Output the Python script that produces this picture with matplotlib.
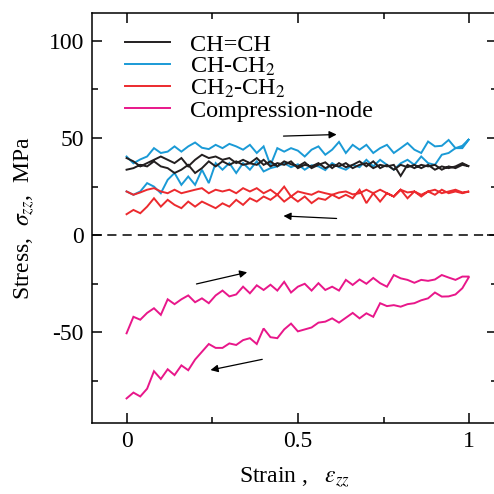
import numpy as np
import matplotlib
matplotlib.use('Agg')
import matplotlib.pyplot as plt

plt.rcParams['font.family'] = ['Liberation Serif', 'DejaVu Serif']
plt.rcParams['mathtext.fontset'] = 'stix'
plt.rcParams['axes.unicode_minus'] = False

# strain grid, 0 -> 1 (loading) and back (unloading)
strain = np.linspace(0, 1, 51)

# CH=CH (black)
chch_up = [39.7, 38, 35.4, 37.1, 38.8, 40.5, 38.8, 37.1, 39.7, 35.4,
           38.8, 41.4, 39.7, 40.5, 38.8, 39.7, 37.1, 38.8, 37.1, 39.7,
           36.2, 38, 35.4, 38, 36.5, 35.4, 37.5, 34.5, 36.2, 37.5,
           34.5, 37.1, 35, 36.2, 38, 35.4, 38, 34.5, 36.2, 33.7,
           36.2, 35, 36.2, 34.5, 36.2, 33.7, 35.4, 34.5, 35.4, 37.1, 35.4]
chch_down = [33.7, 34.5, 36.2, 35.4, 38, 35.4, 34.5, 32, 33.7, 36.2,
             32, 34.5, 38, 35.4, 38, 36.2, 38, 36.2, 37, 36.2,
             38.8, 35.4, 37.1, 36.2, 38, 34.5, 36.2, 35.4, 37.1, 34.5,
             36.2, 35.4, 37.1, 34.5, 36.2, 37.1, 34.5, 36.2, 35.4, 36.2,
             30.5, 36.2, 34.5, 36.2, 35.4, 36.2, 33.7, 35.4, 34.5, 36.2, 35.4]

# CH-CH2 (blue)
chch2_up = [40.5, 37, 39, 40.5, 44.8, 42.3, 43, 45.7, 43, 45.7,
            47.7, 45, 44.3, 46.5, 44.8, 47, 45.7, 44, 46.5, 42.3,
            45.7, 36, 44.8, 43, 44.8, 43.5, 40.5, 44, 45.7, 41.4,
            44, 48, 42.3, 46.5, 44, 46.5, 42.3, 44.8, 46.5, 42.3,
            44.8, 47.4, 44, 42.3, 48.2, 45.7, 46, 49, 44.8, 44.8, 49.5]
chch2_down = [22.5, 20.8, 22.5, 26.8, 25, 21.6, 28.5, 32, 25.9, 30.2,
              25.9, 33.7, 26.8, 37.1, 33.7, 37.1, 32, 37.1, 33.7, 38,
              32.8, 34.5, 35.4, 37.1, 35, 36.5, 33.7, 36, 35.4, 33.5,
              37.1, 35, 33.7, 36.2, 35, 38.8, 35.4, 38.8, 36.2, 33.7,
              37, 38.8, 36.2, 40.5, 37.1, 36.2, 41.4, 42.3, 44.8, 46, 49.5]

# CH2-CH2 (red)
ch2ch2_up = [22.5, 20.8, 22, 23.4, 24.2, 22.5, 21.6, 23.4, 21.6, 22.5,
             23.4, 24.2, 21.6, 23.4, 22.5, 23.4, 21.6, 24.2, 22.5, 24.2,
             21.6, 23.4, 20.8, 25, 19.9, 22.5, 21.6, 20.8, 22.5, 21.6,
             20.8, 22, 22.5, 21, 21.6, 23.4, 21.6, 23.4, 21.6, 19.9,
             23.4, 22, 22.5, 20.8, 22.5, 23.4, 21.6, 22.5, 23.4, 22, 22.5]
ch2ch2_down = [10.8, 13, 11.3, 14.7, 19, 14.7, 18.2, 15.6, 13.9, 17.3,
               14.7, 17.3, 15.6, 13.9, 16.4, 14.7, 18.2, 15.6, 19, 17.3,
               19.9, 18.2, 20.8, 17.3, 19.9, 17.3, 19.9, 16.5, 19, 18.2,
               20.8, 19, 20.8, 19, 23.4, 16.5, 21.6, 17.3, 21.6, 19.9,
               23.4, 19, 22.5, 19.9, 22.5, 20.8, 23.4, 21.6, 22.5, 21.6, 22.5]

# Compression-node (magenta)
comp_up = [-50.5, -42, -43.5, -40, -37.6, -41, -33, -35.5, -33, -31,
           -34.5, -32.5, -35, -31, -28.5, -31.5, -30.5, -26.5, -29.9, -25.8,
           -28.2, -25.5, -28.5, -24, -29.5, -26.5, -25, -28.5, -24.7, -28.2,
           -26.5, -28.5, -23, -25.6, -22.8, -25, -22, -24.7, -26.5, -20.5,
           -22.2, -23, -24.5, -23, -23.5, -22.8, -20.5, -21.8, -23, -21.3, -21.3]
comp_down = [-84, -81, -83, -79, -70, -74, -69, -72, -67, -69.5,
             -64, -60, -56, -58, -58, -55.7, -56.5, -54, -53, -56,
             -48, -52.5, -53, -48.5, -45.5, -49.5, -48.5, -47.5, -45, -44.5,
             -42.8, -45, -42.5, -40, -42.8, -40.2, -42, -35, -36.5, -36,
             -36.8, -35.5, -35, -33.5, -32.5, -29.5, -31.6, -31.5, -30.5, -27.3, -21.3]

labels = ['CH=CH', 'CH-CH$_2$', 'CH$_2$-CH$_2$', 'Compression-node']
colors = ['#231f20', '#1a9ad6', '#ec2a2e', '#e8178a']

# arrows: (tail, head) in data units
arrows = [((0.458, 51.0), (0.613, 51.8)),
          ((0.613, 8.6), (0.458, 9.9)),
          ((0.204, -25.1), (0.352, -19.1)),
          ((0.396, -63.9), (0.245, -69.4))]

fig = plt.figure(figsize=(4.94, 4.94), dpi=100)
ax = fig.add_axes([92.3 / 494, 71.3 / 494, 404.3 / 494, 410 / 494])

series = [(chch2_up, chch2_down, colors[1]),
          (chch_up, chch_down, colors[0]),
          (ch2ch2_up, ch2ch2_down, colors[2]),
          (comp_up, comp_down, colors[3])]
for up, down, c in series:
    xx = np.r_[strain, strain[::-1]]
    yy = np.r_[up, down[::-1]]
    ax.plot(xx, yy, color=c, lw=1.4, solid_joinstyle='miter')

ax.axhline(0, color='k', lw=1.1, ls=(0, (6, 4)))

for tail, head in arrows:
    ax.annotate('', xy=head, xytext=tail,
                arrowprops=dict(arrowstyle='-|>', color='k', lw=0.9,
                                mutation_scale=11, shrinkA=0, shrinkB=0))

# legend drawn by hand to keep the tight row spacing
rows = [0.929, 0.876, 0.821, 0.768]
for lab, c, ry in zip(labels, colors, rows):
    ax.plot([0.081, 0.192], [ry, ry], color=c, lw=1.4, transform=ax.transAxes)
    ax.text(0.2416, ry - 0.022, lab, transform=ax.transAxes, fontsize=17.5,
            va='baseline', ha='left')

ax.set_xlim(-0.1, 1.08)
ax.set_ylim(-96.5, 114.5)
ax.set_xticks([0, 0.5, 1])
ax.set_xticklabels(['0', '0.5', '1'])
ax.set_xticks([0.25, 0.75], minor=True)
ax.set_yticks([-50, 0, 50, 100])
ax.set_yticks([-75, -25, 25, 75], minor=True)
ax.tick_params(which='both', direction='in', top=True, right=True,
               labelsize=17, width=1.1)
ax.tick_params(which='major', length=7.5, pad=6)
ax.tick_params(which='minor', length=4.5)
for s in ax.spines.values():
    s.set_linewidth(1.1)

ax.set_xlabel(r'Strain ,   $\varepsilon_{zz}$', fontsize=17, labelpad=10)
ax.set_ylabel(r'Stress,  $\sigma_{zz}$,  MPa', fontsize=17, labelpad=8)

fig.savefig('out.png', dpi=100)
